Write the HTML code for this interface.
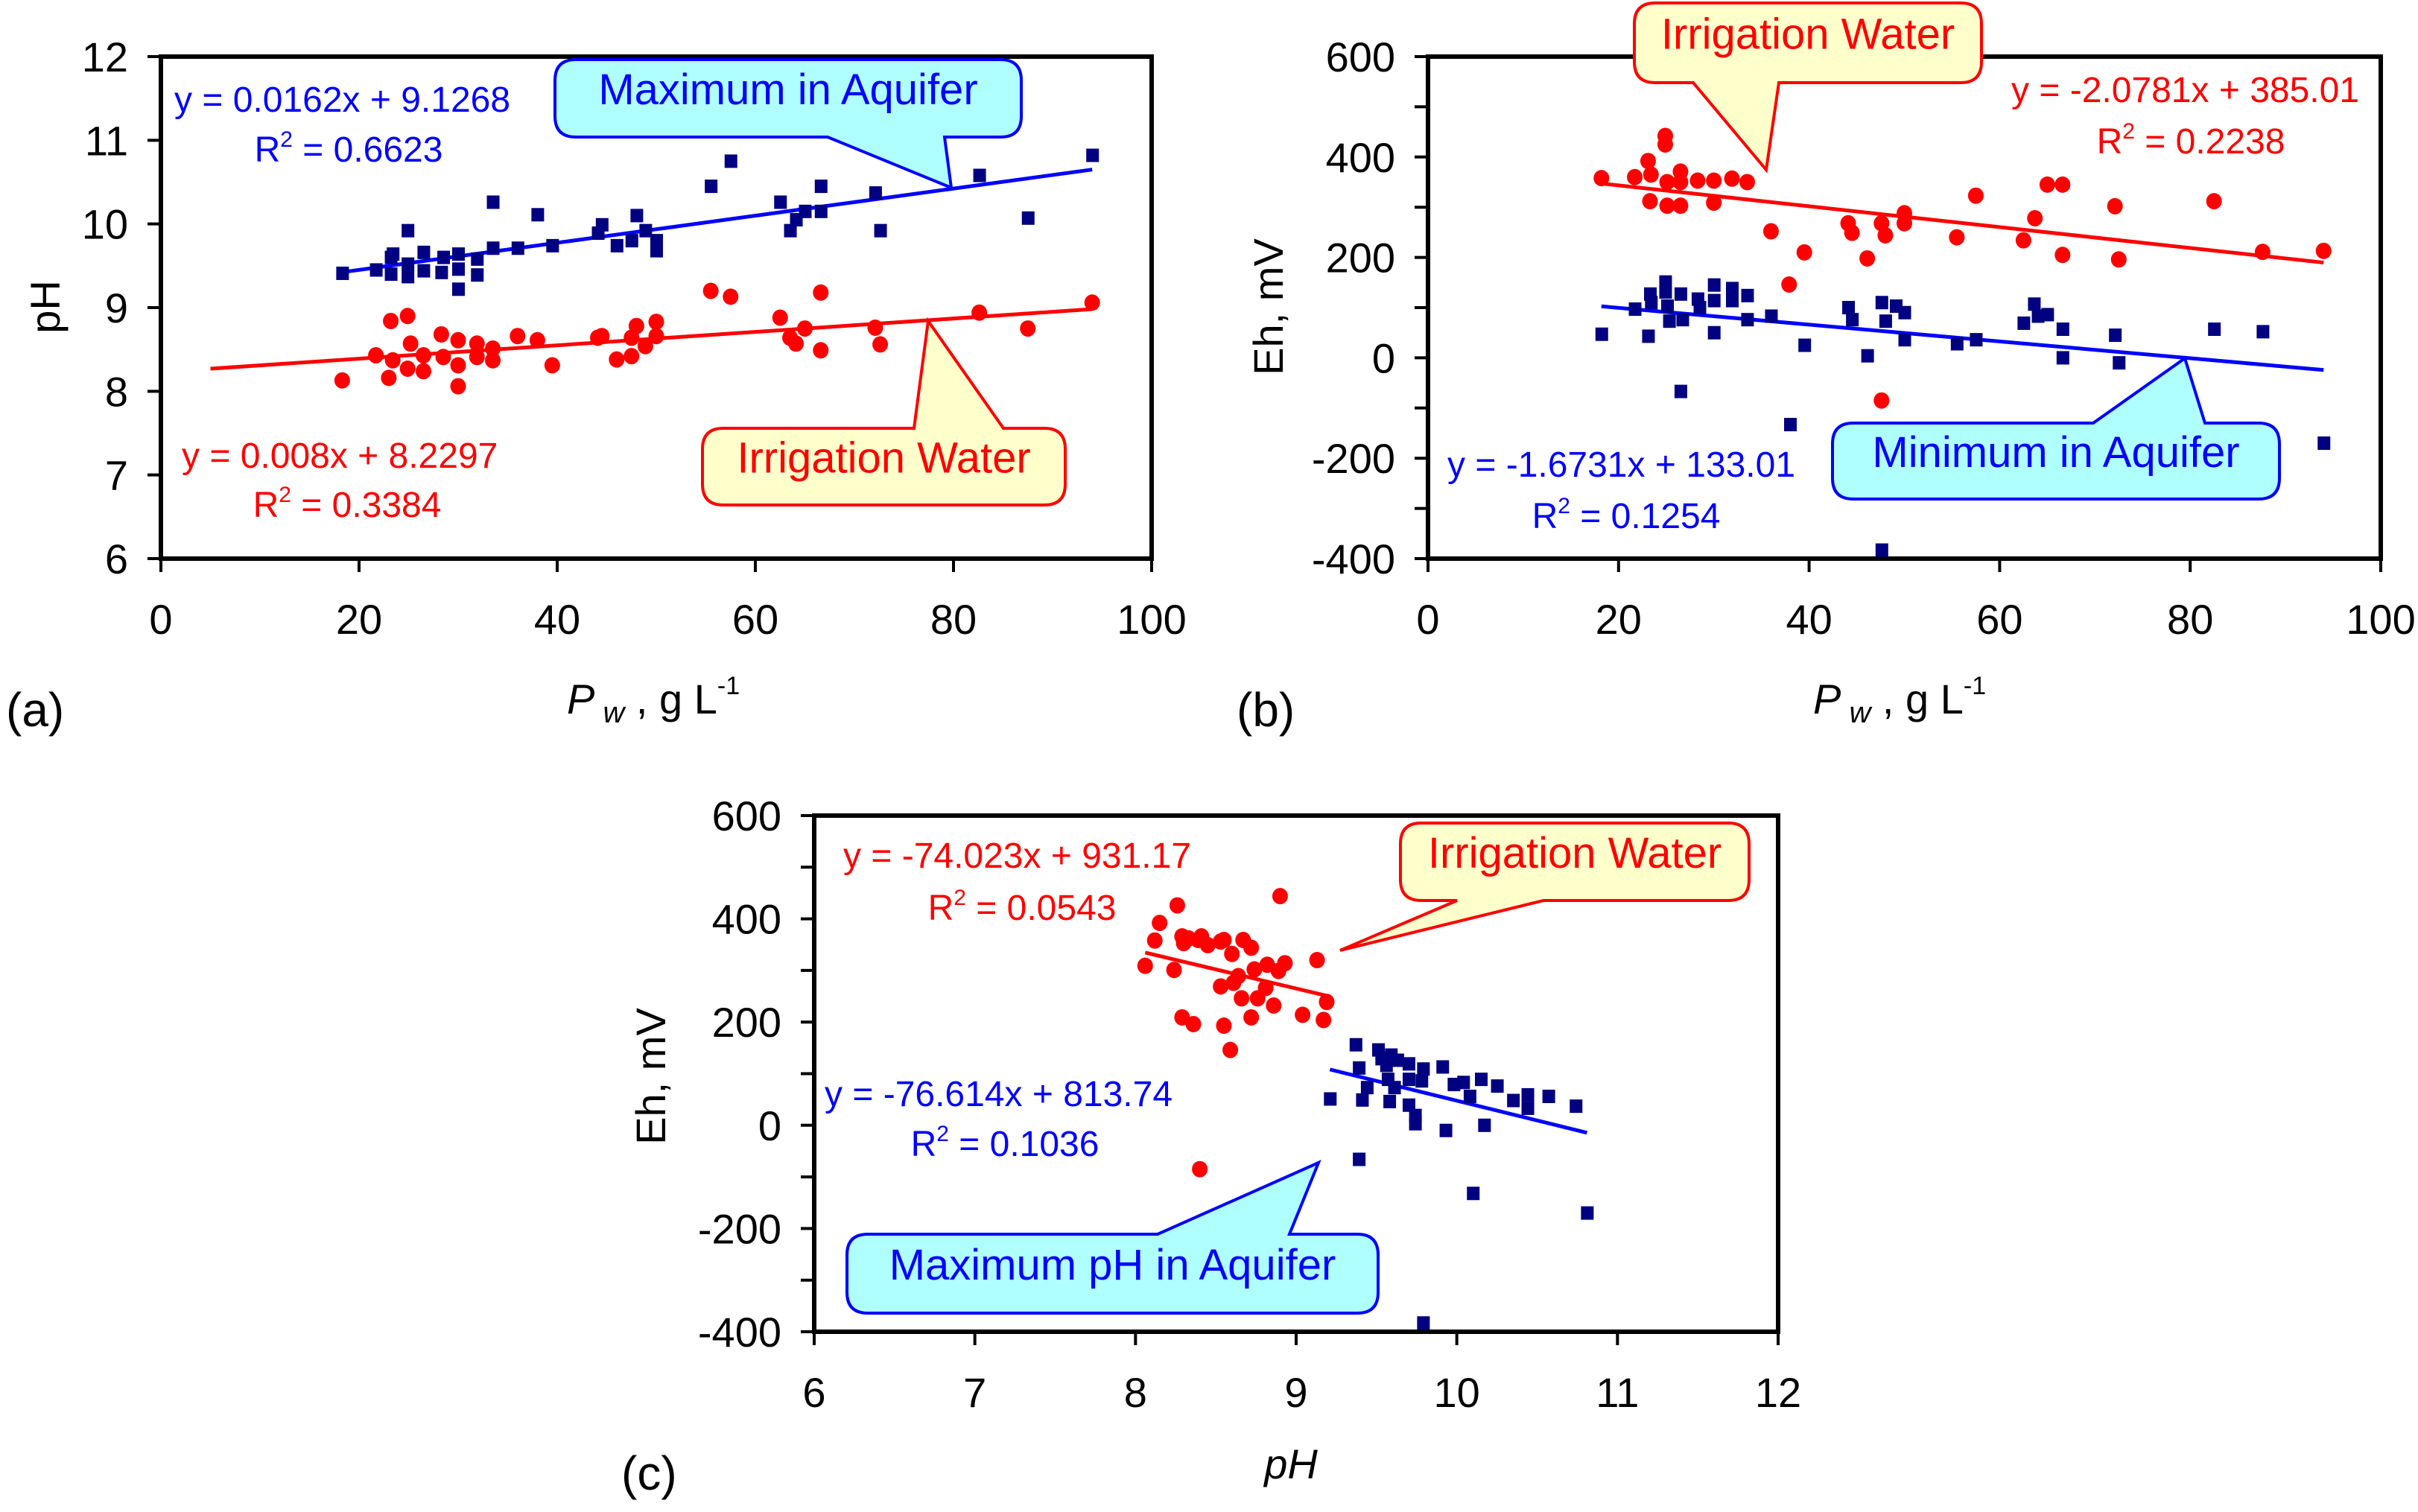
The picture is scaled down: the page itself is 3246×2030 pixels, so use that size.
<!DOCTYPE html>
<html><head><meta charset="utf-8">
<style>
html,body{margin:0;padding:0;background:#fff;}
svg{display:block;font-family:"Liberation Sans",Arial,sans-serif;}
</style></head>
<body>
<svg id="fig" xmlns="http://www.w3.org/2000/svg" width="3246" height="2030" viewBox="0 0 3246 2030">
<rect x="0" y="0" width="3246" height="2030" fill="#fff"/>
</svg>
<script>
// ---------- Panel (a): pH vs Pw ----------
const aPwBlue=[18.3,21.7,23.2,23.4,23.2,24.9,24.9,24.9,26.5,26.5,28.3,28.5,30.0,30.0,30.0,31.9,31.9,33.5,33.5,36.0,38.0,39.5,44.1,44.5,46.0,47.5,48.0,48.9,50.0,50.0,55.5,57.5,62.5,63.5,64.1,65.0,66.6,66.6,72.1,72.6,82.6,87.5,94.0];
const aPhBlue=[9.41,9.45,9.60,9.64,9.40,9.92,9.52,9.37,9.66,9.44,9.42,9.60,9.64,9.46,9.22,9.58,9.39,10.26,9.71,9.71,10.11,9.74,9.89,9.99,9.74,9.80,10.10,9.92,9.80,9.68,10.45,10.75,10.26,9.92,10.05,10.15,10.45,10.15,10.37,9.92,10.58,10.07,10.82];
const aPwRed=[18.3,21.7,23.2,23.0,23.4,24.9,25.2,24.9,26.5,26.5,28.3,28.5,30.0,30.0,30.0,31.9,31.9,33.5,33.5,36.0,38.0,39.5,44.1,44.5,46.0,47.5,47.5,48.0,48.9,50.0,50.0,55.5,57.5,62.5,63.5,64.1,65.0,66.6,66.6,72.1,72.6,82.6,87.5,94.0];
const aPhRed=[8.13,8.43,8.84,8.16,8.37,8.90,8.57,8.27,8.43,8.24,8.68,8.41,8.61,8.31,8.06,8.57,8.41,8.51,8.37,8.66,8.61,8.31,8.64,8.66,8.38,8.64,8.42,8.78,8.54,8.83,8.66,9.20,9.13,8.88,8.64,8.57,8.75,9.18,8.49,8.76,8.56,8.94,8.75,9.06];
const aFitBlue=[0.0162,9.1268]; const aFitBlueRange=[18.3,94];
const aFitRed=[0.008,8.2297]; const aFitRedRange=[5,94];
const aXTicks=[0,20,40,60,80,100];
const aYTicks=[6,7,8,9,10,11,12];

// ---------- Panel (b): Eh vs Pw ----------
const bPwRed=[18.2,21.7,23.1,23.4,23.3,24.9,24.9,25.1,25.1,26.5,26.5,26.5,28.3,30.0,30.0,31.9,33.5,36.0,37.9,39.5,44.1,44.5,46.1,47.6,48.0,47.6,50.0,50.0,55.5,57.5,62.5,63.7,65.0,66.6,66.6,72.1,72.5,82.5,87.6,94.0];
const bEhRed=[358,360,392,365,312,442,425,350,303,371,350,303,353,353,309,357,350,252,146,210,268,249,198,268,244,-85,288,268,240,323,234,278,345,345,205,302,196,312,211,213];
const bPwBlue=[18.2,21.7,23.1,23.3,23.4,24.9,24.9,25.1,25.3,26.5,26.7,26.5,28.3,28.5,30.0,30.0,30.0,31.9,31.9,33.5,33.5,36.0,39.5,38.0,44.1,44.5,46.1,47.6,48.0,47.6,49.1,50.0,50.0,55.5,57.5,62.5,63.6,64.0,65.0,66.6,66.6,72.1,72.5,82.5,87.6,94.0];
const bEhBlue=[47,97,43,127,110,151,131,103,73,127,76,-67,117,100,145,114,50,138,114,124,76,83,25,-133,100,76,4,110,73,-383,103,90,36,28,36,69,107,83,86,57,0,45,-10,57,52,-170];
const bFitRed=[-2.0781,385.01]; const bFitRedRange=[18.2,94];
const bFitBlue=[-1.6731,133.01]; const bFitBlueRange=[18.2,94];
const bXTicks=[0,20,40,60,80,100];
const bYTicks=[-400,-300,-200,-100,0,100,200,300,400,500,600];
const bYLabels=[-400,-200,0,200,400,600];

// ---------- Panel (c): Eh vs pH ----------
const cPhRed=[8.06,8.12,8.15,8.24,8.26,8.29,8.30,8.29,8.36,8.33,8.39,8.41,8.45,8.53,8.55,8.60,8.55,8.59,8.53,8.61,8.64,8.66,8.67,8.72,8.72,8.74,8.76,8.81,8.82,8.86,8.90,8.89,8.93,9.04,9.13,9.17,9.19,8.40];
const cEhRed=[309,358,392,301,426,366,353,209,196,362,359,366,349,356,359,332,193,146,269,276,289,246,359,344,209,302,246,266,311,232,444,299,314,214,320,204,239,-85];
const cPhBlue=[9.37,9.21,9.39,9.39,9.41,9.44,9.51,9.53,9.56,9.57,9.59,9.61,9.63,9.58,9.70,9.70,9.70,9.74,9.74,9.79,9.78,9.79,9.91,9.93,9.98,10.04,10.08,10.10,10.15,10.17,10.25,10.35,10.44,10.44,10.57,10.74,10.81];
const cEhBlue=[156,51,-66,111,49,73,146,129,116,89,136,73,126,46,119,89,39,19,3,109,86,-383,113,-10,79,83,56,-132,89,0,76,48,59,33,56,37,-170];
const cFitRed=[-74.023,931.17]; const cFitRedRange=[8.06,9.19];
const cFitBlue=[-76.614,813.74]; const cFitBlueRange=[9.21,10.81];
const cXTicks=[6,7,8,9,10,11,12];
const cYTicks=[-400,-300,-200,-100,0,100,200,300,400,500,600];
const cYLabels=[-400,-200,0,200,400,600];

const NS="http://www.w3.org/2000/svg";
const svg=document.getElementById('fig');
function mk(tag,attrs,parent){const e=document.createElementNS(NS,tag);for(const k in attrs)e.setAttribute(k,attrs[k]);(parent||svg).appendChild(e);return e;}

function makeScale(d0,d1,p0,p1){return v=>p0+(v-d0)/(d1-d0)*(p1-p0);}

function drawAxes(g,box,xd,yd,xt,yt,ytl,name){
  const sx=makeScale(xd[0],xd[1],box.L,box.R), sy=makeScale(yd[0],yd[1],box.B,box.T);
  yt.forEach(v=>{const t=mk('line',{x1:box.L-18,x2:box.L,y1:sy(v),y2:sy(v),stroke:'#000','stroke-width':4},g);
    
    });
  xt.forEach(v=>{const t=mk('line',{x1:sx(v),x2:sx(v),y1:box.B,y2:box.B+18,stroke:'#000','stroke-width':4},g);
    
    
    const l=mk('text',{x:sx(v),y:box.B+101,'text-anchor':'middle','font-size':56,fill:'#000'},g);
    l.textContent=String(v);
    
    });
  ytl.forEach(v=>{const l=mk('text',{x:box.L-44,y:sy(v)+20,'text-anchor':'end','font-size':56,fill:'#000'},g);
    l.textContent=String(v);
    
    });
  const f=mk('rect',{x:box.L,y:box.T,width:box.R-box.L,height:box.B-box.T,fill:'none',stroke:'#000','stroke-width':6},g);
  
  
  return [sx,sy];
}
function squares(g,xs,ys,sx,sy,name){
  xs.forEach((x,i)=>{const r=mk('rect',{x:sx(x)-8,y:sy(ys[i])-9,width:17,height:18,fill:'#000080'},g);
    
    });
}
function circles(g,xs,ys,sx,sy,name){
  xs.forEach((x,i)=>{const c=mk('ellipse',{cx:sx(x),cy:sy(ys[i]),rx:10.5,ry:11,fill:'#ff0000'},g);
    
    });
}
function fitLine(g,fit,range,sx,sy,color,name){
  const l=mk('line',{x1:sx(range[0]),y1:sy(fit[0]*range[0]+fit[1]),x2:sx(range[1]),y2:sy(fit[0]*range[1]+fit[1]),stroke:color,'stroke-width':5},g);
  
  
}
function eqText(g,x,y,txt,color,name){
  const t=mk('text',{x:x,y:y,'font-size':48,fill:color},g);t.textContent=txt;
  
  
}
function r2Text(g,cx,y,val,color,name){
  const t=mk('text',{x:cx,y:y,'font-size':48,fill:color,'text-anchor':'middle'},g);
  const a=mk('tspan',{},t);a.textContent='R';
  const b=mk('tspan',{dy:-20,'font-size':30},t);b.textContent='2';
  const c=mk('tspan',{dy:20},t);c.textContent=' = '+val;
  
  
}
function callout(g,x1,y1,x2,y2,p1,p2,tx,ty,bottom,fill,stroke,label,color,name){
  const r=28;let d;
  if(bottom){
    d=`M${x1+r},${y1} H${x2-r} Q${x2},${y1} ${x2},${y1+r} V${y2-r} Q${x2},${y2} ${x2-r},${y2} H${p2} L${tx},${ty} L${p1},${y2} H${x1+r} Q${x1},${y2} ${x1},${y2-r} V${y1+r} Q${x1},${y1} ${x1+r},${y1} Z`;
  } else {
    d=`M${x1+r},${y1} H${p1} L${tx},${ty} L${p2},${y1} H${x2-r} Q${x2},${y1} ${x2},${y1+r} V${y2-r} Q${x2},${y2} ${x2-r},${y2} H${x1+r} Q${x1},${y2} ${x1},${y2-r} V${y1+r} Q${x1},${y1} ${x1+r},${y1} Z`;
  }
  const p=mk('path',{d:d,fill:fill,stroke:stroke,'stroke-width':4},g);
  
  
  const t=mk('text',{x:(x1+x2)/2,y:(y1+y2)/2+8,'text-anchor':'middle','font-size':58,fill:color},g);
  t.textContent=label;
  
  
}
function label(g,x,y,txt,size,name,extra){
  const t=mk('text',Object.assign({x:x,y:y,'font-size':size,fill:'#000'},extra||{}),g);t.textContent=txt;
  
  
  return t;
}
function pwTitle(g,x,y,name){
  const t=mk('text',{x:x,y:y,'font-size':56,fill:'#000'},g);
  const a=mk('tspan',{'font-style':'italic'},t);a.textContent='P';
  const b=mk('tspan',{'font-style':'italic','font-size':40,dy:12},t);b.textContent=' w';
  const c=mk('tspan',{dy:-12},t);c.textContent=' , g L';
  const d=mk('tspan',{dy:-26,'font-size':34},t);d.textContent='-1';
  
  
}

// Panel A
const gA=mk('g',{});


const boxA={L:216,R:1546,T:76,B:750};
const [sxA,syA]=drawAxes(gA,boxA,[0,100],[6,12],aXTicks,aYTicks,aYTicks,'panel-a');
fitLine(gA,aFitRed,aFitRedRange,sxA,syA,'#ff0000','trendline-irrigation');
fitLine(gA,aFitBlue,aFitBlueRange,sxA,syA,'#0000ff','trendline-aquifer-max');
squares(gA,aPwBlue,aPhBlue,sxA,syA,'point-aquifer-max');
circles(gA,aPwRed,aPhRed,sxA,syA,'point-irrigation');
callout(gA,745,80,1371,184,1111,1268,1277,252,true,'#b0ffff','#0000ff','Maximum in Aquifer','#0000ff','callout-maximum-in-aquifer');
callout(gA,943,575,1430,678,1227,1347,1246,431,false,'#ffffcc','#ff0000','Irrigation Water','#ff0000','callout-irrigation-water');
eqText(gA,234,150,'y = 0.0162x + 9.1268','#0000ff','equation-aquifer');
r2Text(gA,468,217,'0.6623','#0000ff','r2-aquifer');
eqText(gA,244,628,'y = 0.008x + 8.2297','#ff0000','equation-irrigation');
r2Text(gA,466,694,'0.3384','#ff0000','r2-irrigation');
label(gA,80,412,'pH',56,'y-axis-title',{'text-anchor':'middle',transform:'rotate(-90 80 412)'});
pwTitle(gA,761,958,'x-axis-title');
label(gA,8,975,'(a)',64,'panel-label-a');

// Panel B
const gB=mk('g',{});


const boxB={L:1917,R:3196,T:76,B:750};
const [sxB,syB]=drawAxes(gB,boxB,[0,100],[-400,600],bXTicks,bYTicks,bYLabels,'panel-b');
fitLine(gB,bFitRed,bFitRedRange,sxB,syB,'#ff0000','trendline-irrigation');
fitLine(gB,bFitBlue,bFitBlueRange,sxB,syB,'#0000ff','trendline-aquifer-min');
squares(gB,bPwBlue,bEhBlue,sxB,syB,'point-aquifer-min');
circles(gB,bPwRed,bEhRed,sxB,syB,'point-irrigation');
callout(gB,2194,4,2660,111,2273,2388,2371,228,true,'#ffffcc','#ff0000','Irrigation Water','#ff0000','callout-irrigation-water');
callout(gB,2460,568,3060,670,2810,2960,2933,481,false,'#b0ffff','#0000ff','Minimum in Aquifer','#0000ff','callout-minimum-in-aquifer');
eqText(gB,2700,137,'y = -2.0781x + 385.01','#ff0000','equation-irrigation');
r2Text(gB,2941,206,'0.2238','#ff0000','r2-irrigation');
eqText(gB,1943,640,'y = -1.6731x + 133.01','#0000ff','equation-aquifer');
r2Text(gB,2183,709,'0.1254','#0000ff','r2-aquifer');
label(gB,1722,412,'Eh, mV',56,'y-axis-title',{'text-anchor':'middle',transform:'rotate(-90 1722 412)'});
pwTitle(gB,2434,958,'x-axis-title');
label(gB,1660,975,'(b)',64,'panel-label-b');

// Panel C
const gC=mk('g',{});


const boxC={L:1093,R:2387,T:1095,B:1788};
const [sxC,syC]=drawAxes(gC,boxC,[6,12],[-400,600],cXTicks,cYTicks,cYLabels,'panel-c');
fitLine(gC,cFitRed,cFitRedRange,sxC,syC,'#ff0000','trendline-irrigation');
fitLine(gC,cFitBlue,cFitBlueRange,sxC,syC,'#0000ff','trendline-aquifer-max');
squares(gC,cPhBlue,cEhBlue,sxC,syC,'point-aquifer-max');
circles(gC,cPhRed,cEhRed,sxC,syC,'point-irrigation');
callout(gC,1880,1105,2348,1209,1956,2072,1799,1276,true,'#ffffcc','#ff0000','Irrigation Water','#ff0000','callout-irrigation-water');
callout(gC,1137,1657,1850,1763,1554,1731,1770,1561,false,'#b0ffff','#0000ff','Maximum pH in Aquifer','#0000ff','callout-maximum-ph-in-aquifer');
eqText(gC,1132,1165,'y = -74.023x + 931.17','#ff0000','equation-irrigation');
r2Text(gC,1372,1235,'0.0543','#ff0000','r2-irrigation');
eqText(gC,1107,1485,'y = -76.614x + 813.74','#0000ff','equation-aquifer');
r2Text(gC,1349,1552,'0.1036','#0000ff','r2-aquifer');
label(gC,893,1445,'Eh, mV',56,'y-axis-title',{'text-anchor':'middle',transform:'rotate(-90 893 1445)'});
label(gC,1733,1985,'pH',56,'x-axis-title',{'text-anchor':'middle','font-style':'italic'});
label(gC,834,2000,'(c)',64,'panel-label-c');
</script>
</body></html>
